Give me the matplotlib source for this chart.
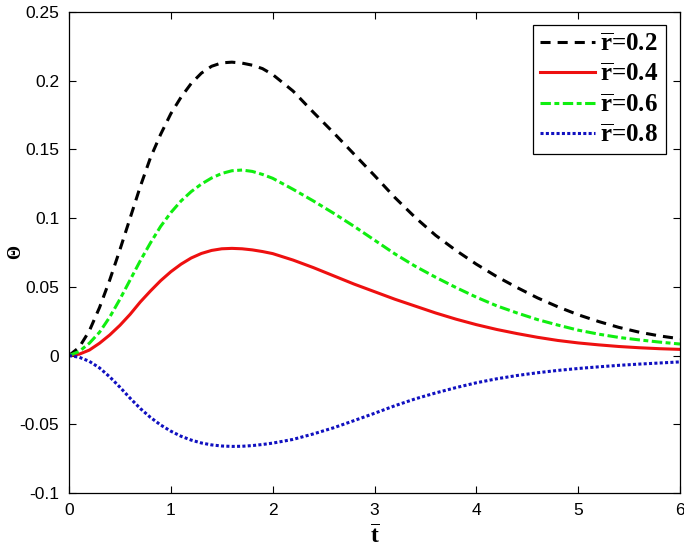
import numpy as np
import matplotlib
matplotlib.use("Agg")
import matplotlib.pyplot as plt

t = [0, 0.1, 0.2, 0.3, 0.4, 0.5, 0.6, 0.7, 0.8, 0.9, 1.0, 1.1, 1.2, 1.3, 1.4,
     1.5, 1.6, 1.7, 1.8, 1.9, 2.0, 2.2, 2.4, 2.6, 2.8, 3.0, 3.2, 3.4, 3.6, 3.8,
     4.0, 4.2, 4.4, 4.6, 4.8, 5.0, 5.2, 5.4, 5.6, 5.8, 6.0]

theta_r02 = [0, 0.006, 0.018, 0.035, 0.055, 0.077, 0.100, 0.123, 0.144, 0.161,
             0.176, 0.188, 0.198, 0.2055, 0.2105, 0.2130, 0.2135, 0.2128, 0.2113,
             0.2088, 0.2045, 0.1925, 0.1770, 0.1620, 0.1465, 0.1310, 0.1150,
             0.1005, 0.0875, 0.0765, 0.0665, 0.0575, 0.0495, 0.0420, 0.0355,
             0.0297, 0.0248, 0.0205, 0.0170, 0.0143, 0.0122]

theta_r04 = [0, 0.001, 0.004, 0.009, 0.015, 0.022, 0.030, 0.039, 0.047, 0.0545,
             0.061, 0.0665, 0.0710, 0.0743, 0.0765, 0.0777, 0.0780, 0.0777,
             0.0769, 0.0757, 0.0742, 0.0695, 0.0640, 0.0580, 0.0520, 0.0465,
             0.0410, 0.0360, 0.0310, 0.0265, 0.0225, 0.0190, 0.0160, 0.0133,
             0.0110, 0.0092, 0.0078, 0.0066, 0.0057, 0.0050, 0.0045]

theta_r06 = [0, 0.003, 0.009, 0.017, 0.028, 0.041, 0.055, 0.069, 0.082, 0.094,
             0.104, 0.1125, 0.1193, 0.1248, 0.1292, 0.1325, 0.1345, 0.1350,
             0.1340, 0.1318, 0.1290, 0.1210, 0.1125, 0.1035, 0.0940, 0.0840,
             0.0740, 0.0650, 0.0570, 0.0495, 0.0425, 0.0362, 0.0310, 0.0262,
             0.0222, 0.0185, 0.0156, 0.0132, 0.0114, 0.0098, 0.0084]

theta_r08 = [0, -0.0012, -0.0042, -0.0090, -0.0155, -0.0230, -0.0310, -0.0385,
             -0.0450, -0.0505, -0.0550, -0.0587, -0.0615, -0.0636, -0.0650,
             -0.0658, -0.0661, -0.0660, -0.0655, -0.0647, -0.0637, -0.0610,
             -0.0570, -0.0525, -0.0473, -0.0420, -0.0365, -0.0315, -0.0272,
             -0.0233, -0.0198, -0.0169, -0.0145, -0.0125, -0.0108, -0.0094,
             -0.0082, -0.0071, -0.0062, -0.0054, -0.0046]

labels = ["0.2", "0.4", "0.6", "0.8"]
xticks = [0, 1, 2, 3, 4, 5, 6]
yticks = [-0.1, -0.05, 0, 0.05, 0.1, 0.15, 0.2, 0.25]
ytick_labels = ["-0.1", "-0.05", "0", "0.05", "0.1", "0.15", "0.2", "0.25"]

plt.rcParams['mathtext.fontset'] = 'custom'
plt.rcParams['mathtext.rm'] = 'Liberation Serif:bold'
plt.rcParams['mathtext.bf'] = 'Liberation Serif:bold'
plt.rcParams['mathtext.it'] = 'Liberation Serif:bold'

fig = plt.figure(figsize=(6.84, 5.52), dpi=100)
ax = fig.add_axes([69/684, (552-493)/552, 611/684, 481/552])

lw = 2.2
ax.plot(t, theta_r02, color='black', linestyle=(0, (3.3, 2.3)), lw=lw,
        label=r'$\overline{\mathbf{r}}$=' + labels[0])
ax.plot(t, theta_r04, color='#ee1010', linestyle='-', lw=lw,
        label=r'$\overline{\mathbf{r}}$=' + labels[1])
ax.plot(t, theta_r06, color='#10ee10', linestyle=(0, (3.4, 1.15, 1.6, 1.15)), lw=lw,
        label=r'$\overline{\mathbf{r}}$=' + labels[2])
ax.plot(t, theta_r08, color='#1010c0', linestyle=(0, (1.0, 0.75)), lw=lw,
        label=r'$\overline{\mathbf{r}}$=' + labels[3])

ax.set_xlim(0, 6)
ax.set_ylim(-0.1, 0.25)
ax.set_xticks(xticks)
ax.set_xticklabels([str(v) for v in xticks])
ax.set_yticks(yticks)
ax.set_yticklabels(ytick_labels)
ax.tick_params(direction='in', length=5, width=0.8, top=True, right=True,
               labelsize=12.5, pad=7)
for lab in ax.get_xticklabels() + ax.get_yticklabels():
    lab.set_family('Liberation Sans')
for s in ax.spines.values():
    s.set_linewidth(0.9)

ax.set_xlabel(r'$\overline{\mathbf{t}}$', fontsize=17, labelpad=5)
ax.set_ylabel('Θ', fontsize=13, family='Liberation Serif', fontweight='bold',
              rotation=90, va='center', ha='center')
ax.yaxis.set_label_coords(-53/611, (493-252)/481)

leg = ax.legend(loc='upper right', bbox_to_anchor=(0.977, 0.973), borderaxespad=0,
                prop={'family': 'Liberation Serif', 'weight': 'bold', 'size': 18},
                handlelength=2.2, handletextpad=0.2,
                labelspacing=0.3, borderpad=0.3, fancybox=False, framealpha=1,
                edgecolor='black')
leg.get_frame().set_linewidth(0.9)

fig.savefig('out.png', dpi=100)
